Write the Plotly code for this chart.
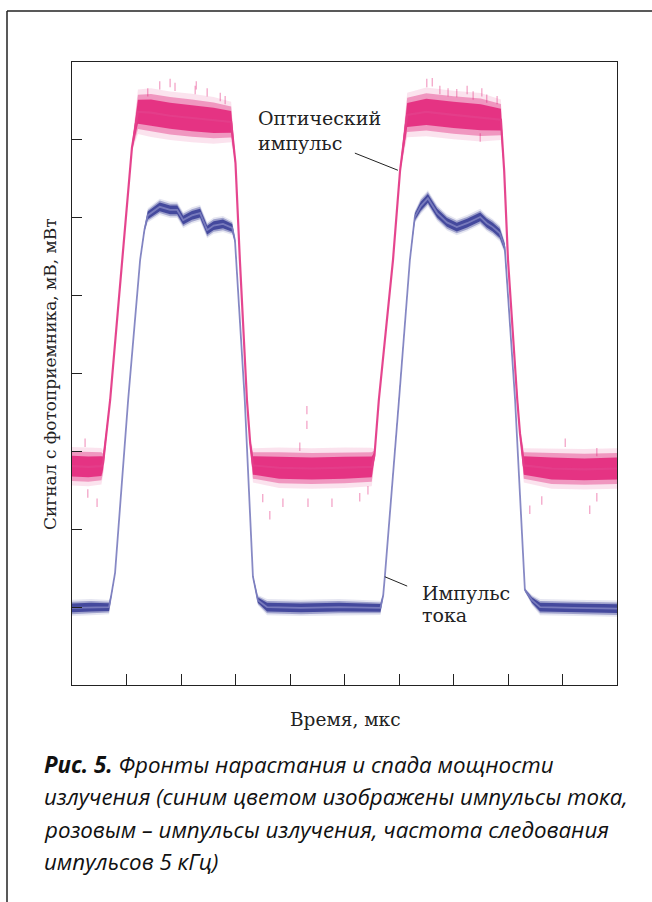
import plotly.graph_objects as go

# ---------------- data ----------------
# optical pulse (pink): time, centre value, half-width of the noise band
pink_t = [0.00, 0.30, 0.54, 0.57, 0.70, 0.92, 1.10, 1.21, 1.45, 1.80, 2.20, 2.60, 2.92,
          3.00, 3.08, 3.21, 3.27, 3.32, 3.80, 4.40, 5.00, 5.50,
          5.55, 5.63, 5.89, 6.02, 6.15, 6.50, 7.00, 7.50, 7.87,
          7.93, 8.00, 8.17, 8.22, 8.29, 8.80, 9.40, 10.00]
pink_y = [2.81, 2.80, 2.81, 2.85, 3.66, 5.46, 6.90, 7.36, 7.35, 7.31, 7.28, 7.25, 7.23,
          6.70, 5.46, 3.66, 3.10, 2.82, 2.79, 2.78, 2.79, 2.80,
          2.95, 3.66, 5.46, 6.61, 7.32, 7.36, 7.32, 7.29, 7.26,
          6.60, 5.46, 3.66, 3.23, 2.82, 2.78, 2.77, 2.78]
pink_h = [0.19, 0.19, 0.18, 0.12, 0.02, 0.02, 0.04, 0.22, 0.24, 0.24, 0.24, 0.23, 0.20,
          0.03, 0.02, 0.02, 0.05, 0.17, 0.20, 0.20, 0.20, 0.19,
          0.06, 0.02, 0.02, 0.03, 0.22, 0.24, 0.24, 0.24, 0.20,
          0.03, 0.02, 0.02, 0.05, 0.17, 0.20, 0.20, 0.20]

# current pulse (blue)
blue_t = [0.00, 0.35, 0.68, 0.72, 0.79, 1.03, 1.25, 1.33, 1.39, 1.61, 1.80, 1.93, 2.04,
          2.20, 2.35, 2.48, 2.60, 2.77, 2.94, 2.99, 3.17, 3.32, 3.41, 3.58,
          4.20, 4.90, 5.66, 5.71, 5.74, 6.00, 6.20, 6.29, 6.40, 6.53, 6.70, 6.88,
          7.06, 7.25, 7.49, 7.61, 7.72, 7.85, 7.94, 8.13, 8.31, 8.44, 8.59, 9.20, 10.00]
blue_y = [0.99, 1.00, 1.00, 1.15, 1.44, 3.66, 5.46, 5.85, 6.03, 6.14, 6.10, 6.10, 5.97,
          6.03, 6.06, 5.84, 5.90, 5.92, 5.87, 5.71, 3.66, 1.39, 1.09, 1.00,
          0.99, 1.00, 0.99, 1.15, 1.39, 3.66, 5.46, 6.01, 6.15, 6.25, 6.06, 5.94,
          5.88, 5.93, 6.01, 5.93, 5.88, 5.80, 5.62, 3.66, 1.22, 1.09, 1.00, 0.99, 0.98]
blue_h = [0.08, 0.08, 0.07, 0.02, 0.01, 0.01, 0.01, 0.03, 0.07, 0.08, 0.08, 0.08, 0.08,
          0.08, 0.08, 0.08, 0.08, 0.08, 0.07, 0.03, 0.01, 0.02, 0.05, 0.08,
          0.08, 0.08, 0.07, 0.02, 0.01, 0.01, 0.01, 0.06, 0.08, 0.08, 0.08, 0.08,
          0.08, 0.08, 0.08, 0.08, 0.08, 0.08, 0.06, 0.01, 0.02, 0.05, 0.08, 0.08, 0.08]

# isolated noise spikes of the optical signal
spike_t = [1.39, 1.61, 1.80, 1.89, 2.26, 2.28, 2.48, 2.72, 2.81,
           6.51, 6.61, 6.75, 6.90, 7.06, 7.25, 7.36, 7.52, 7.61, 7.80, 7.49,
           0.24, 0.29, 0.46, 4.31, 4.31, 4.18, 3.63, 3.87, 4.33, 4.77, 3.50, 5.28, 5.43,
           8.40, 8.62, 9.50, 9.63, 9.05, 9.63]
spike_y = [7.61, 7.70, 7.73, 7.68, 7.64, 7.70, 7.61, 7.55, 7.51,
           7.73, 7.74, 7.64, 7.61, 7.60, 7.64, 7.57, 7.61, 7.53, 7.51, 7.03,
           3.11, 2.46, 2.34, 3.53, 3.34, 3.06, 2.18, 2.34, 2.34, 2.34, 2.40, 2.41, 2.50,
           2.25, 2.37, 2.25, 2.41, 3.11, 2.99]

x_ticks = [1, 2, 3, 4, 5, 6, 7, 8, 9]
y_ticks = [1, 2, 3, 4, 5, 6, 7]

label_optical = ["Оптический", "импульс"]
label_current = ["Импульс", "тока"]
x_title = "Время, мкс"
y_title = "Сигнал с фотоприемника, мВ, мВт"
caption = ["<b>Рис. 5.</b> Фронты нарастания и спада мощности",
           "излучения (синим цветом изображены импульсы тока,",
           "розовым – импульсы излучения, частота следования",
           "импульсов 5 кГц)"]

# ---------------- figure ----------------
W, H = 652, 902
L, R, T, B = 72, 617, 62, 685


def px(x):
    return (x - L) / (R - L)


def py(y):
    return (B - y) / (B - T)


fig = go.Figure()


def band(t, y, h, k, fillcolor):
    up = [a + k * b for a, b in zip(y, h)]
    lo = [a - k * b for a, b in zip(y, h)]
    fig.add_trace(go.Scatter(x=t + t[::-1], y=up + lo[::-1], fill="toself",
                             fillcolor=fillcolor, line=dict(width=0), mode="lines",
                             hoverinfo="skip", showlegend=False))


def add_signal(t, y, h, rgb, line_color, lw):
    band(t, y, h, 1.3, "rgba(%s,0.13)" % rgb)
    band(t, y, h, 1.0, "rgba(%s,0.40)" % rgb)
    band(t, y, h, 0.7, "rgba(%s,0.88)" % rgb)
    fig.add_trace(go.Scatter(x=t, y=y, mode="lines", line=dict(color=line_color, width=lw),
                             hoverinfo="skip", showlegend=False))


add_signal(pink_t, pink_y, pink_h, "226,38,122", "rgba(228,62,138,0.95)", 2.2)
add_signal(blue_t, blue_y, blue_h, "56,60,150", "rgba(125,128,192,0.9)", 1.8)

fig.add_trace(go.Scatter(x=spike_t, y=spike_y, mode="markers",
                         marker=dict(symbol="line-ns", size=6,
                                     line=dict(width=1.2, color="rgba(226,38,122,0.45)")),
                         hoverinfo="skip", showlegend=False))

serif = "DejaVu Serif"
ann = []
for i, s in enumerate(label_optical):
    ann.append(dict(x=px(256), y=py([118, 143][i]), xref="paper", yref="paper", text=s,
                    showarrow=False, xanchor="left", yanchor="middle",
                    font=dict(family=serif, size=19, color="#222")))
for i, s in enumerate(label_current):
    ann.append(dict(x=px(420), y=py([593, 615][i]), xref="paper", yref="paper", text=s,
                    showarrow=False, xanchor="left", yanchor="middle",
                    font=dict(family=serif, size=19, color="#222")))
ann.append(dict(x=px(345), y=py(719), xref="paper", yref="paper", text=x_title, showarrow=False,
                xanchor="center", yanchor="middle", font=dict(family=serif, size=18.5, color="#222")))
ann.append(dict(x=px(50), y=py(374), xref="paper", yref="paper", text=y_title, showarrow=False,
                textangle=-90, xanchor="center", yanchor="middle",
                font=dict(family=serif, size=17, color="#222")))
for i, s in enumerate(caption):
    ann.append(dict(x=px(42), y=py(764 + 32.5 * i), xref="paper", yref="paper", text="<i>" + s + "</i>",
                    showarrow=False, xanchor="left", yanchor="middle",
                    font=dict(family="Open Sans", size=22.3, color="#111")))

shapes = [
    dict(type="line", xref="paper", yref="paper", x0=px(7), x1=px(660), y0=py(11), y1=py(11),
         line=dict(color="#222", width=1.5)),
    dict(type="line", xref="paper", yref="paper", x0=px(7), x1=px(7), y0=py(11), y1=py(910),
         line=dict(color="#222", width=1.5)),
    dict(type="line", xref="x", yref="y", x0=5.19, y0=6.83, x1=5.98, y1=6.61,
         line=dict(color="#222", width=1)),
    dict(type="line", xref="x", yref="y", x0=5.74, y0=1.39, x1=6.15, y1=1.27,
         line=dict(color="#222", width=1)),
]

fig.update_layout(
    width=W, height=H, margin=dict(l=L, r=W - R, t=T, b=H - B),
    paper_bgcolor="white", plot_bgcolor="white",
    annotations=ann, shapes=shapes,
    xaxis=dict(range=[0, 10], tickvals=x_ticks, ticks="inside", ticklen=11, tickwidth=1.2,
               tickcolor="#222", showticklabels=False, showgrid=False, zeroline=False,
               showline=True, linecolor="#222", linewidth=1.4, mirror=True, fixedrange=True),
    yaxis=dict(range=[0, 8], tickvals=y_ticks, ticks="inside", ticklen=10, tickwidth=1.2,
               tickcolor="#222", showticklabels=False, showgrid=False, zeroline=False,
               showline=True, linecolor="#222", linewidth=1.4, mirror=True, fixedrange=True),
)

fig.write_html("out.html", config={"displayModeBar": False},
               post_script="document.body.style.margin='0';document.body.style.overflow='hidden';")
